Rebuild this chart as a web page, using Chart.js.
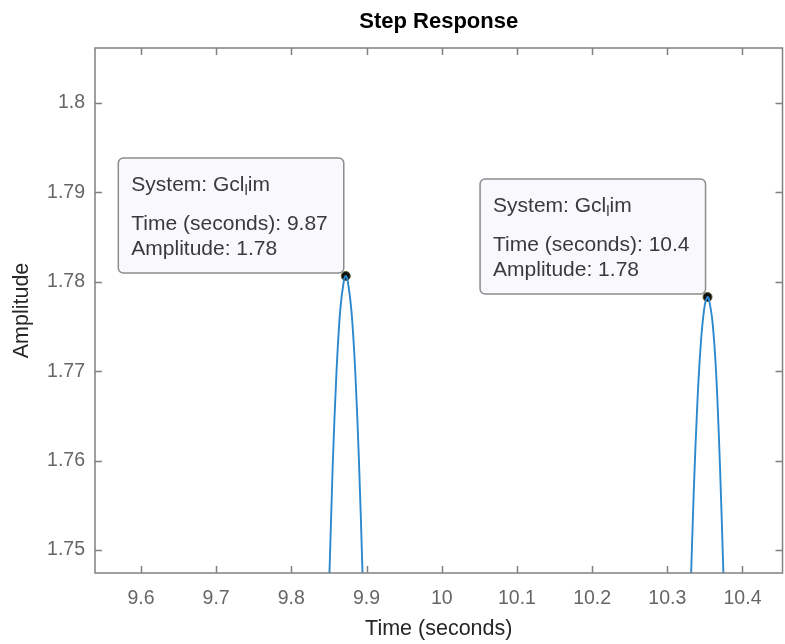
<!DOCTYPE html>
<html>
<head>
<meta charset="utf-8">
<script src="https://cdn.jsdelivr.net/npm/chart.js@4"></script>
<style>
  html, body { margin: 0; padding: 0; background: #fff; overflow: hidden; }
  #wrap { width: 788px; height: 644px; }
  canvas { display: block; }
</style>
</head>
<body>
<div id="wrap"><canvas id="stepChart"></canvas></div>
<script>
// AXES
const xTicks = [9.6, 9.7, 9.8, 9.9, 10.0, 10.1, 10.2, 10.3, 10.4];
const xTickLabels = ['9.6', '9.7', '9.8', '9.9', '10', '10.1', '10.2', '10.3', '10.4'];
const yTicks = [1.75, 1.76, 1.77, 1.78, 1.79, 1.80];
const yTickLabels = ['1.75', '1.76', '1.77', '1.78', '1.79', '1.8'];

// STEP RESPONSE (two visible peaks)
const peak1Time = [9.845, 9.850, 9.855, 9.860, 9.865, 9.870, 9.8724, 9.875, 9.880, 9.885, 9.890, 9.895, 9.900];
const peak1Amp  = [1.7350, 1.7455, 1.7594, 1.7698, 1.7768, 1.7802, 1.78065, 1.7801, 1.7767, 1.7700, 1.7598, 1.7464, 1.7296];
const peak2Time = [10.325, 10.330, 10.335, 10.340, 10.345, 10.350, 10.3535, 10.355, 10.360, 10.365, 10.370, 10.375, 10.380];
const peak2Amp  = [1.7255, 1.7424, 1.7561, 1.7665, 1.7736, 1.7775, 1.7783, 1.7782, 1.7756, 1.7697, 1.7595, 1.7462, 1.7300];

// DATA TIPS
const tipTime = [9.8724, 10.3535];
const tipAmp = [1.78065, 1.7783];
const tipTimeText = ['9.87', '10.4'];
const tipAmpText = ['1.78', '1.78'];

const FONT = '"Liberation Sans", Arial, Helvetica, sans-serif';
const toXY = (xs, ys) => xs.map((x, i) => ({ x: x, y: ys[i] }));

// title, box + inside ticks on all four sides
const axesBox = {
    id: 'axesBox',
    afterDatasetsDraw(chart) {
        const { ctx, chartArea: a, scales: { x, y } } = chart;
        ctx.save();
        ctx.strokeStyle = '#808080';
        ctx.lineWidth = 1.5;
        ctx.beginPath();
        xTicks.forEach(v => {
            const px = Math.round(x.getPixelForValue(v)) + 0.5;
            ctx.moveTo(px, a.bottom); ctx.lineTo(px, a.bottom - 7);
            ctx.moveTo(px, a.top); ctx.lineTo(px, a.top + 7);
        });
        yTicks.forEach(v => {
            const py = Math.round(y.getPixelForValue(v)) + 0.5;
            ctx.moveTo(a.left, py); ctx.lineTo(a.left + 7, py);
            ctx.moveTo(a.right, py); ctx.lineTo(a.right - 7, py);
        });
        ctx.stroke();
        ctx.strokeRect(a.left, a.top, a.right - a.left, a.bottom - a.top);

        ctx.fillStyle = '#000';
        ctx.font = 'bold 22px ' + FONT;
        ctx.textAlign = 'center';
        ctx.textBaseline = 'middle';
        ctx.fillText('Step Response', (a.left + a.right) / 2, 22);
        ctx.restore();
    }
};

// MATLAB-like datatip boxes
const dataTips = {
    id: 'dataTips',
    beforeDatasetsDraw(chart) {
        const { ctx, scales: { x, y } } = chart;
        ctx.save();
        ctx.font = '21px ' + FONT;
        tipTime.forEach((t, i) => {
            const px = x.getPixelForValue(t);
            const py = y.getPixelForValue(tipAmp[i]);
            const line2 = 'Time (seconds): ' + tipTimeText[i];
            const line3 = 'Amplitude: ' + tipAmpText[i];
            const w = Math.max(ctx.measureText(line2).width, ctx.measureText(line3).width) + 29;
            const h = 115;
            const bx = px - 2 - w;
            const by = py - 3 - h;
            ctx.beginPath();
            ctx.roundRect(bx, by, w, h, 5);
            ctx.fillStyle = '#f9f8fd';
            ctx.fill();
            ctx.strokeStyle = '#8c8c8c';
            ctx.lineWidth = 1.5;
            ctx.stroke();

            ctx.fillStyle = '#3a3a3a';
            ctx.textBaseline = 'middle';
            ctx.textAlign = 'left';
            const tx = bx + 13;
            // System: Gcl_lim  (l as subscript)
            ctx.font = '21px ' + FONT;
            let s = 'System: Gcl';
            ctx.fillText(s, tx, by + 27);
            let cx = tx + ctx.measureText(s).width;
            ctx.font = '15px ' + FONT;
            ctx.fillText('l', cx, by + 33);
            cx += ctx.measureText('l').width;
            ctx.font = '21px ' + FONT;
            ctx.fillText('im', cx, by + 27);
            ctx.fillText(line2, tx, by + 66);
            ctx.fillText(line3, tx, by + 91);
        });
        ctx.restore();
    }
};

new Chart(document.getElementById('stepChart'), {
    type: 'line',
    data: {
        datasets: [{
            label: 'Gcl_lim',
            data: toXY(peak1Time, peak1Amp),
            borderColor: '#2a88cf',
            borderWidth: 1.9,
            pointRadius: 0,
            tension: 0.3
        }, {
            label: 'Gcl_lim',
            data: toXY(peak2Time, peak2Amp),
            borderColor: '#2a88cf',
            borderWidth: 1.9,
            pointRadius: 0,
            tension: 0.3
        }, {
            label: 'tips',
            type: 'scatter',
            data: toXY(tipTime, tipAmp),
            pointRadius: 4.5,
            pointBackgroundColor: '#111',
            pointBorderColor: '#5c5a30',
            pointBorderWidth: 1
        }]
    },
    options: {
        responsive: true,
        maintainAspectRatio: false,
        animation: false,
        layout: { padding: { top: 48, right: 2 } },
        plugins: {
            legend: { display: false },
            tooltip: { enabled: false },
            title: { display: false }
        },
        scales: {
            x: {
                type: 'linear',
                min: 9.5389,
                max: 10.4532,
                grid: { display: false, drawTicks: false },
                border: { display: false },
                afterBuildTicks: s => { s.ticks = xTicks.map(v => ({ value: v })); },
                afterFit: s => { s.height = 71; s.paddingLeft = 0; s.paddingRight = 0; },
                ticks: {
                    padding: 14,
                    color: '#666',
                    font: { family: FONT, size: 19.5 },
                    maxRotation: 0,
                    autoSkip: false,
                    callback: (v, i) => xTickLabels[i]
                },
                title: {
                    display: true,
                    text: 'Time (seconds)',
                    color: '#262626',
                    font: { family: FONT, size: 21.5 },
                    padding: { top: 0, bottom: 2 }
                }
            },
            y: {
                min: 1.74743,
                max: 1.80615,
                grid: { display: false, drawTicks: false },
                border: { display: false },
                afterBuildTicks: s => { s.ticks = yTicks.map(v => ({ value: v })); },
                afterFit: s => { s.width = 95; s.paddingTop = 0; s.paddingBottom = 0; },
                ticks: {
                    padding: 10,
                    color: '#666',
                    font: { family: FONT, size: 19.5 },
                    autoSkip: false,
                    callback: (v, i) => yTickLabels[i]
                },
                title: {
                    display: true,
                    text: 'Amplitude',
                    color: '#262626',
                    font: { family: FONT, size: 21.5 },
                    padding: { top: 9, bottom: 0 }
                }
            }
        }
    },
    plugins: [dataTips, axesBox]
});
</script>
</body>
</html>
